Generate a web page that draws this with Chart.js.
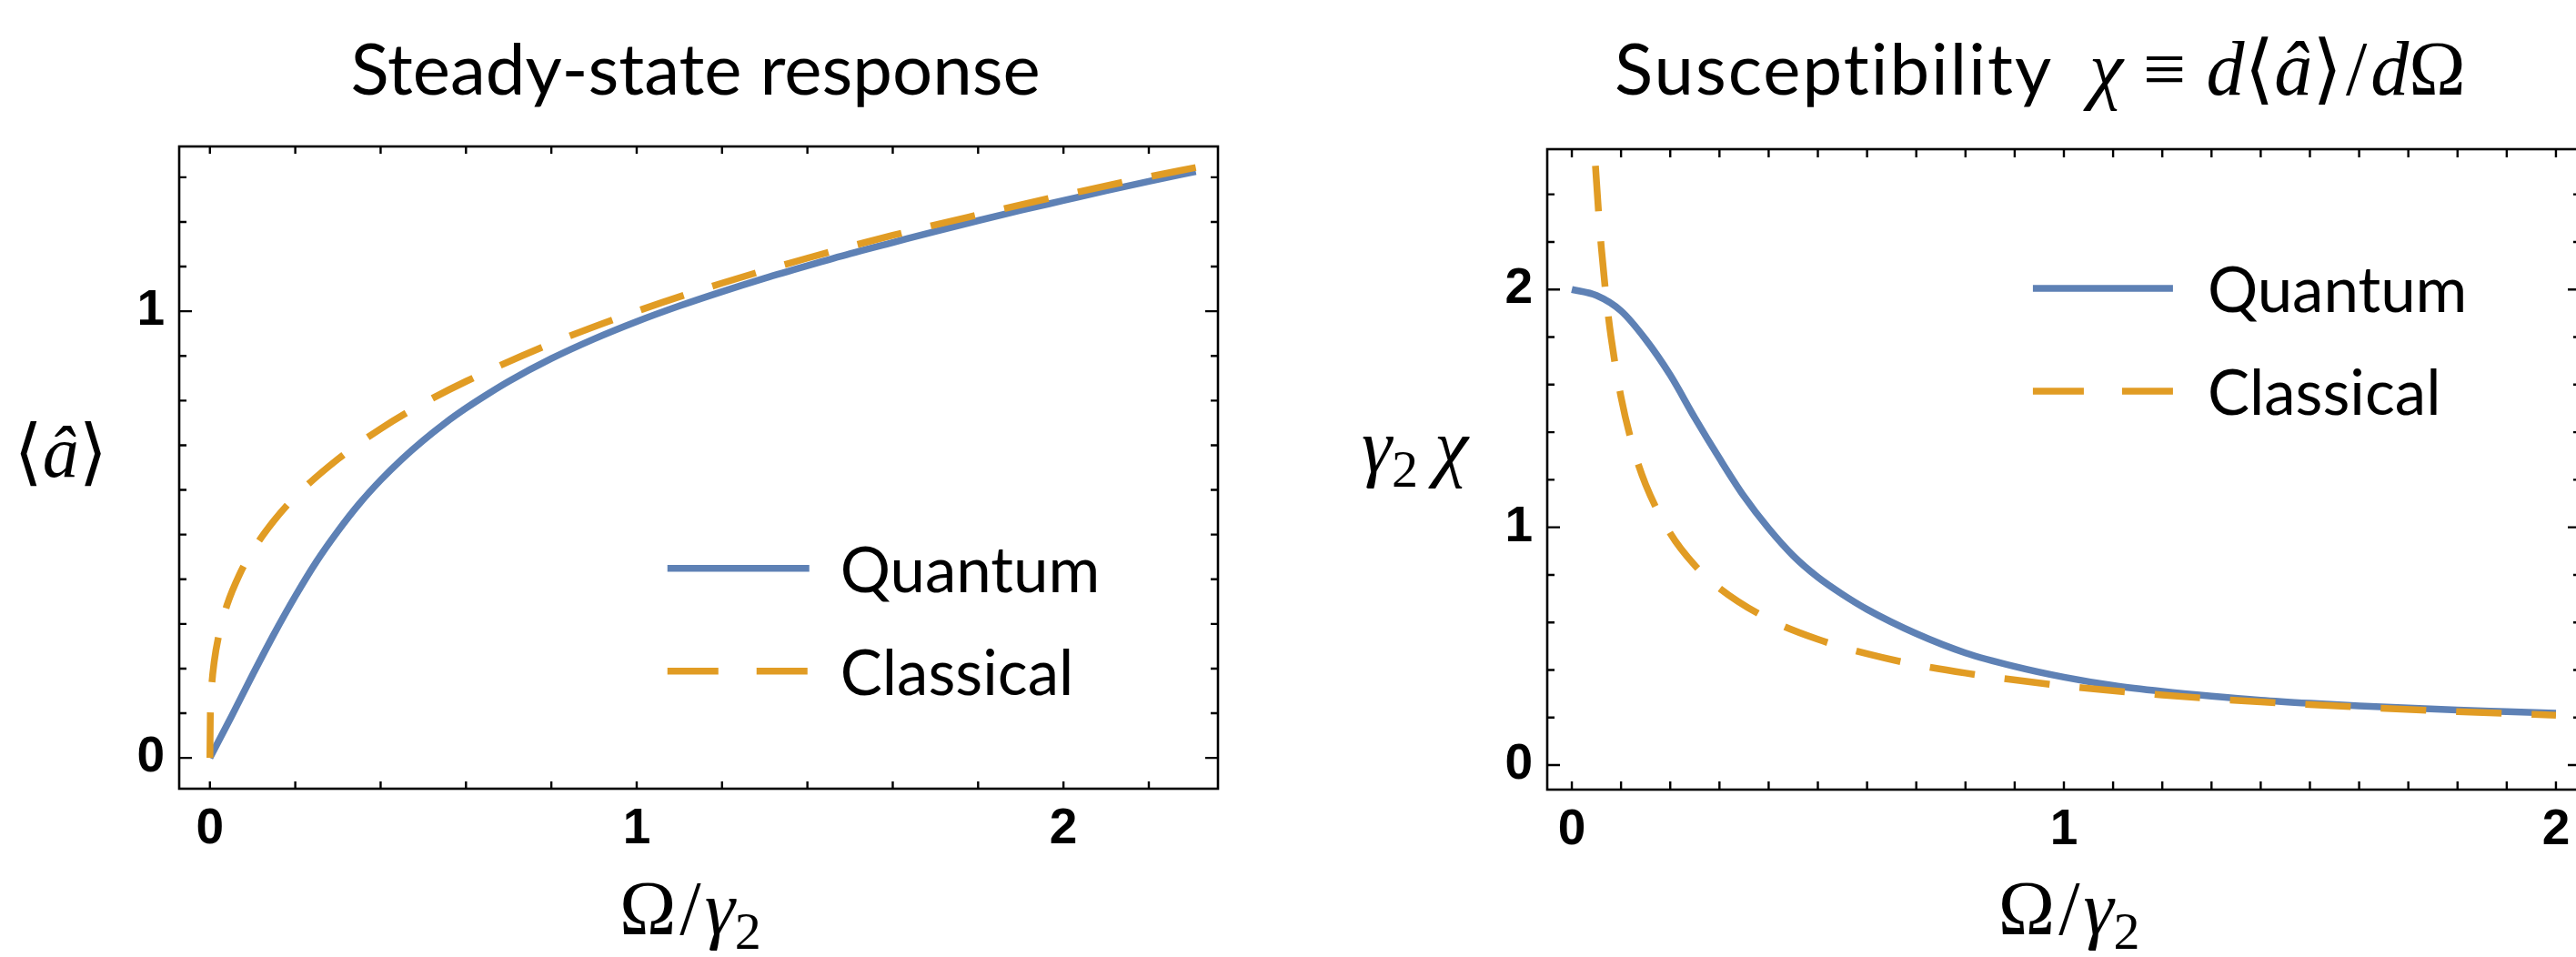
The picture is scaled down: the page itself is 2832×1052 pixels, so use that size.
<!DOCTYPE html>
<html>
<head>
<meta charset="utf-8">
<title>Steady-state response and susceptibility</title>
<script src="https://cdn.jsdelivr.net/npm/chart.js@4.4.1/dist/chart.umd.min.js"></script>
<style>
  html, body { margin: 0; padding: 0; background: #ffffff; overflow: hidden; }
  body { width: 2832px; height: 1052px; position: relative; }
  canvas { position: absolute; top: 0; }
  #responseChart { left: 0; }
  #susceptChart { left: 1420px; }
</style>
</head>
<body>
<canvas id="responseChart" width="1420" height="1052"></canvas>
<canvas id="susceptChart" width="1425" height="1052"></canvas>
<script>
// =========================
// data: steady-state response <a> vs Omega/gamma2
// =========================
const responseQuantumX = [0, 0.05, 0.1, 0.15, 0.2, 0.25, 0.3, 0.35, 0.4, 0.45, 0.5, 0.55, 0.6, 0.65, 0.7, 0.8, 0.9, 1.0,
  1.1, 1.2, 1.3, 1.4, 1.5, 1.6, 1.7, 1.8, 1.9, 2.0, 2.1, 2.2, 2.31];
const responseQuantumY = [0, 0.092, 0.186, 0.277, 0.362, 0.44, 0.508, 0.569, 0.622, 0.669, 0.711, 0.749, 0.783, 0.814, 0.843, 0.894, 0.938, 0.977,
  1.012, 1.044, 1.074, 1.102, 1.129, 1.154, 1.179, 1.203, 1.226, 1.248, 1.27, 1.291, 1.313];

const responseClassicalX = [0, 0.001, 0.004, 0.01, 0.02, 0.04, 0.07, 0.1, 0.15, 0.2, 0.3, 0.4, 0.5, 0.6, 0.8,
  1.0, 1.2, 1.4, 1.6, 1.8, 2.0, 2.2, 2.31];
const responseClassicalY = [0, 0.1, 0.159, 0.215, 0.271, 0.342, 0.412, 0.464, 0.531, 0.585, 0.669, 0.737, 0.794, 0.843, 0.928,
  1.0, 1.063, 1.119, 1.17, 1.216, 1.26, 1.301, 1.322];

// =========================
// data: susceptibility gamma2*chi vs Omega/gamma2
// =========================
const susceptQuantumX = [0, 0.05, 0.1, 0.15, 0.2, 0.25, 0.3, 0.35, 0.4, 0.45, 0.5, 0.55, 0.6, 0.7, 0.8, 0.9, 1.0,
  1.1, 1.2, 1.3, 1.4, 1.5, 1.6, 1.7, 1.8, 1.9, 2.0];
const susceptQuantumY = [2.0, 1.975, 1.91, 1.79, 1.64, 1.46, 1.29, 1.13, 0.995, 0.88, 0.79, 0.718, 0.655, 0.553, 0.472, 0.415, 0.37,
  0.335, 0.31, 0.29, 0.273, 0.26, 0.249, 0.24, 0.232, 0.225, 0.218];

const susceptClassicalX = [0.048, 0.055, 0.06, 0.07, 0.08, 0.1, 0.125, 0.15, 0.2, 0.25, 0.3, 0.4, 0.5, 0.6, 0.7, 0.8,
  1.0, 1.2, 1.4, 1.6, 1.8, 2.0];
const susceptClassicalY = [2.52, 2.305, 2.175, 1.963, 1.795, 1.547, 1.333, 1.18, 0.975, 0.84, 0.744, 0.614, 0.529, 0.468, 0.422, 0.387,
  0.333, 0.295, 0.266, 0.244, 0.225, 0.21];

// =========================
// frame ticks (integers get the tick labels)
// =========================
const responseXTicks = [0, 0.2, 0.4, 0.6, 0.8, 1, 1.2, 1.4, 1.6, 1.8, 2, 2.2];
const responseYTicks = [0, 0.1, 0.2, 0.3, 0.4, 0.5, 0.6, 0.7, 0.8, 0.9, 1, 1.1, 1.2, 1.3];
const susceptXTicks = [0, 0.1, 0.2, 0.3, 0.4, 0.5, 0.6, 0.7, 0.8, 0.9, 1, 1.1, 1.2, 1.3, 1.4, 1.5, 1.6, 1.7, 1.8, 1.9, 2];
const susceptYTicks = [0, 0.2, 0.4, 0.6, 0.8, 1, 1.2, 1.4, 1.6, 1.8, 2, 2.2, 2.4];
const majorTickLabels = [0, 1, 2];

const seriesLabels = ["Quantum", "Classical"];

// =========================
// style
// =========================
const BLUE = "#5E81B5";
const ORANGE = "#E19C24";
const SANS = "Lato, 'Open Sans', sans-serif";
const SERIF = "'Liberation Serif', 'DejaVu Serif', serif";
const TITLE_FONT = `78px ${SANS}`;
const LEGEND_FONT = `69px ${SANS}`;
const MATH_IT = `italic 84px ${SERIF}`;
const MATH_RM = `84px ${SERIF}`;
const MATH_SUB = `58px ${SERIF}`;
const BRACKET_IT = `italic 80px ${SERIF}`;
const BRACKET_RM = `80px ${SERIF}`;

function toPoints(xs, ys) {
  return xs.map((x, i) => ({ x, y: ys[i] }));
}

// draws a row of text pieces that each carry their own font
function drawRuns(ctx, runs, x, y, align) {
  const widths = runs.map((run) => {
    ctx.font = run.font;
    ctx.letterSpacing = run.spacing || "0px";
    return ctx.measureText(run.text).width + (run.gap || 0);
  });
  const total = widths.reduce((a, b) => a + b, 0);
  let cursor = align === "center" ? x - total / 2 : align === "right" ? x - total : x;

  runs.forEach((run, i) => {
    ctx.font = run.font;
    ctx.letterSpacing = run.spacing || "0px";
    ctx.fillText(run.text, cursor + (run.gap || 0), y + (run.shift || 0));
    cursor += widths[i];
  });
  ctx.letterSpacing = "0px";
}

// =========================
// boxed frame with inward ticks on all four sides
// =========================
function makeFramePlugin(cfg) {
  return {
    id: "frameTicks",
    afterDatasetsDraw(chart) {
      const { ctx, chartArea, scales } = chart;
      const { left, right, top, bottom } = chartArea;

      ctx.save();
      ctx.strokeStyle = "#000000";
      ctx.lineWidth = 2.6;
      ctx.setLineDash([]);
      ctx.strokeRect(left, top, right - left, bottom - top);

      ctx.lineWidth = 2.4;
      ctx.beginPath();
      cfg.xTicks.forEach((v) => {
        const px = scales.x.getPixelForValue(v);
        ctx.moveTo(px, bottom);
        ctx.lineTo(px, bottom - cfg.xLen);
        ctx.moveTo(px, top);
        ctx.lineTo(px, top + cfg.xLen);
      });
      cfg.yTicks.forEach((v) => {
        const py = scales.y.getPixelForValue(v);
        const len = Number.isInteger(v) ? cfg.yMajorLen : cfg.yMinorLen;
        ctx.moveTo(left, py);
        ctx.lineTo(left + len, py);
        ctx.moveTo(right, py);
        ctx.lineTo(right - len, py);
      });
      ctx.stroke();
      ctx.restore();
    },
  };
}

// =========================
// title, axis labels and legend
// =========================
function makeLabelsPlugin(cfg) {
  return {
    id: "plotLabels",
    afterDraw(chart) {
      const { ctx, chartArea } = chart;
      const { left, right, top, bottom } = chartArea;
      const width = right - left;
      const height = bottom - top;

      ctx.save();
      ctx.fillStyle = "#000000";
      ctx.textBaseline = "alphabetic";
      ctx.textAlign = "left";

      drawRuns(ctx, cfg.title, left + width * cfg.titleFrac, cfg.titleBaseline, "center");
      drawRuns(ctx, cfg.xLabel, left + width * cfg.xLabelFrac, cfg.xLabelBaseline, "center");
      drawRuns(ctx, cfg.yLabel, left - cfg.yLabelGap, (top + bottom) / 2 + cfg.yLabelDrop, "right");

      // legend: one row per dataset, line sample then label
      const x0 = left + width * cfg.legendX;
      chart.data.datasets.forEach((ds, i) => {
        const y = top + height * cfg.legendY + i * cfg.legendRowGap;
        ctx.beginPath();
        ctx.strokeStyle = ds.borderColor;
        ctx.lineWidth = ds.borderWidth;
        ctx.lineCap = "butt";
        ctx.setLineDash(ds.borderDash && ds.borderDash.length ? cfg.legendDash : []);
        ctx.moveTo(x0, y);
        ctx.lineTo(x0 + cfg.legendLineLength, y);
        ctx.stroke();

        ctx.setLineDash([]);
        ctx.font = LEGEND_FONT;
        ctx.fillText(ds.label, x0 + cfg.legendLineLength + cfg.legendTextGap, y + 26);
      });

      ctx.restore();
    },
  };
}

function makeDatasets(quantumPts, classicalPts) {
  return [
    {
      label: seriesLabels[0],
      data: quantumPts,
      borderColor: BLUE,
      borderWidth: 7.5,
      pointRadius: 0,
      cubicInterpolationMode: "monotone",
      order: 2,
    },
    {
      label: seriesLabels[1],
      data: classicalPts,
      borderColor: ORANGE,
      borderWidth: 7.5,
      borderDash: [50, 33],
      pointRadius: 0,
      cubicInterpolationMode: "monotone",
      order: 1,
    },
  ];
}

function makeScales(xRange, yRange, axisWidth, axisHeight) {
  const tickFont = { family: "'Liberation Sans', Arial, sans-serif", size: 55, weight: "bold" };
  const labelOnlyMajor = (value) => (majorTickLabels.includes(value) ? String(value) : "");

  return {
    x: {
      type: "linear",
      min: xRange[0],
      max: xRange[1],
      grid: { display: false, drawTicks: false },
      border: { display: false },
      ticks: {
        stepSize: 1,
        includeBounds: false,
        autoSkip: false,
        maxRotation: 0,
        padding: 12,
        color: "#000000",
        font: tickFont,
        callback: labelOnlyMajor,
      },
      afterFit: (scale) => {
        scale.height = axisHeight;
      },
    },
    y: {
      type: "linear",
      min: yRange[0],
      max: yRange[1],
      grid: { display: false, drawTicks: false },
      border: { display: false },
      ticks: {
        stepSize: 1,
        includeBounds: false,
        autoSkip: false,
        padding: 16,
        color: "#000000",
        font: tickFont,
        callback: labelOnlyMajor,
      },
      afterFit: (scale) => {
        scale.width = axisWidth;
      },
    },
  };
}

const xAxisLabel = [
  { text: "Ω", font: MATH_RM },
  { text: "/", font: MATH_RM, gap: 4 },
  { text: "γ", font: MATH_IT, gap: 4 },
  { text: "2", font: MATH_SUB, shift: 16 },
];

const baseOptions = {
  responsive: false,
  animation: false,
  devicePixelRatio: 1,
};

function renderResponseChart() {
  const canvas = document.querySelector("#responseChart");

  new Chart(canvas.getContext("2d"), {
    type: "line",
    data: {
      datasets: makeDatasets(
        toPoints(responseQuantumX, responseQuantumY),
        toPoints(responseClassicalX, responseClassicalY),
      ),
    },
    options: {
      ...baseOptions,
      layout: { padding: { top: 161, right: 81, bottom: 0, left: 0 } },
      scales: makeScales([-0.072, 2.362], [-0.069, 1.369], 197, 185),
      plugins: { legend: { display: false }, tooltip: { enabled: false } },
    },
    plugins: [
      makeFramePlugin({ xTicks: responseXTicks, yTicks: responseYTicks, xLen: 8, yMajorLen: 14, yMinorLen: 8 }),
      makeLabelsPlugin({
        title: [{ text: "Steady-state response", font: TITLE_FONT }],
        titleFrac: 0.497,
        titleBaseline: 104,
        xLabel: xAxisLabel,
        xLabelFrac: 0.492,
        xLabelBaseline: 1027,
        yLabel: [
          { text: "⟨", font: BRACKET_RM },
          { text: "â", font: BRACKET_IT },
          { text: "⟩", font: BRACKET_RM },
        ],
        yLabelGap: 79,
        yLabelDrop: 10,
        legendX: 0.47,
        legendY: 0.657,
        legendRowGap: 113,
        legendLineLength: 156,
        legendTextGap: 34,
        legendDash: [56, 42],
      }),
    ],
  });
}

function renderSusceptChart() {
  const canvas = document.querySelector("#susceptChart");

  new Chart(canvas.getContext("2d"), {
    type: "line",
    data: {
      datasets: makeDatasets(
        toPoints(susceptQuantumX, susceptQuantumY),
        toPoints(susceptClassicalX, susceptClassicalY),
      ),
    },
    options: {
      ...baseOptions,
      layout: { padding: { top: 164, right: 8, bottom: 0, left: 0 } },
      scales: makeScales([-0.05, 2.05], [-0.103, 2.59], 281, 184),
      plugins: { legend: { display: false }, tooltip: { enabled: false } },
    },
    plugins: [
      makeFramePlugin({ xTicks: susceptXTicks, yTicks: susceptYTicks, xLen: 9, yMajorLen: 14, yMinorLen: 8 }),
      makeLabelsPlugin({
        title: [
          { text: "Susceptibility", font: TITLE_FONT, spacing: "2px" },
          { text: "χ", font: MATH_IT, gap: 40 },
          { text: "≡", font: MATH_RM, gap: 22 },
          { text: "d", font: MATH_IT, gap: 22 },
          { text: "⟨", font: MATH_RM },
          { text: "â", font: MATH_IT },
          { text: "⟩", font: MATH_RM },
          { text: "/", font: MATH_RM, gap: 4 },
          { text: "d", font: MATH_IT, gap: 4 },
          { text: "Ω", font: MATH_RM },
        ],
        titleFrac: 0.477,
        titleBaseline: 104,
        xLabel: xAxisLabel,
        xLabelFrac: 0.505,
        xLabelBaseline: 1027,
        yLabel: [
          { text: "γ", font: MATH_IT },
          { text: "2", font: MATH_SUB, shift: 16 },
          { text: "χ", font: MATH_IT, gap: 18 },
        ],
        yLabelGap: 87,
        yLabelDrop: 3,
        legendX: 0.47,
        legendY: 0.2173,
        legendRowGap: 113,
        legendLineLength: 154,
        legendTextGap: 38,
        legendDash: [56, 42],
      }),
    ],
  });
}

Promise.all([
  document.fonts.load(TITLE_FONT),
  document.fonts.load(MATH_IT),
  document.fonts.load(MATH_RM),
  document.fonts.load("bold 55px 'Liberation Sans'"),
]).catch(() => null).then(() => {
  renderResponseChart();
  renderSusceptChart();
});
</script>
</body>
</html>
